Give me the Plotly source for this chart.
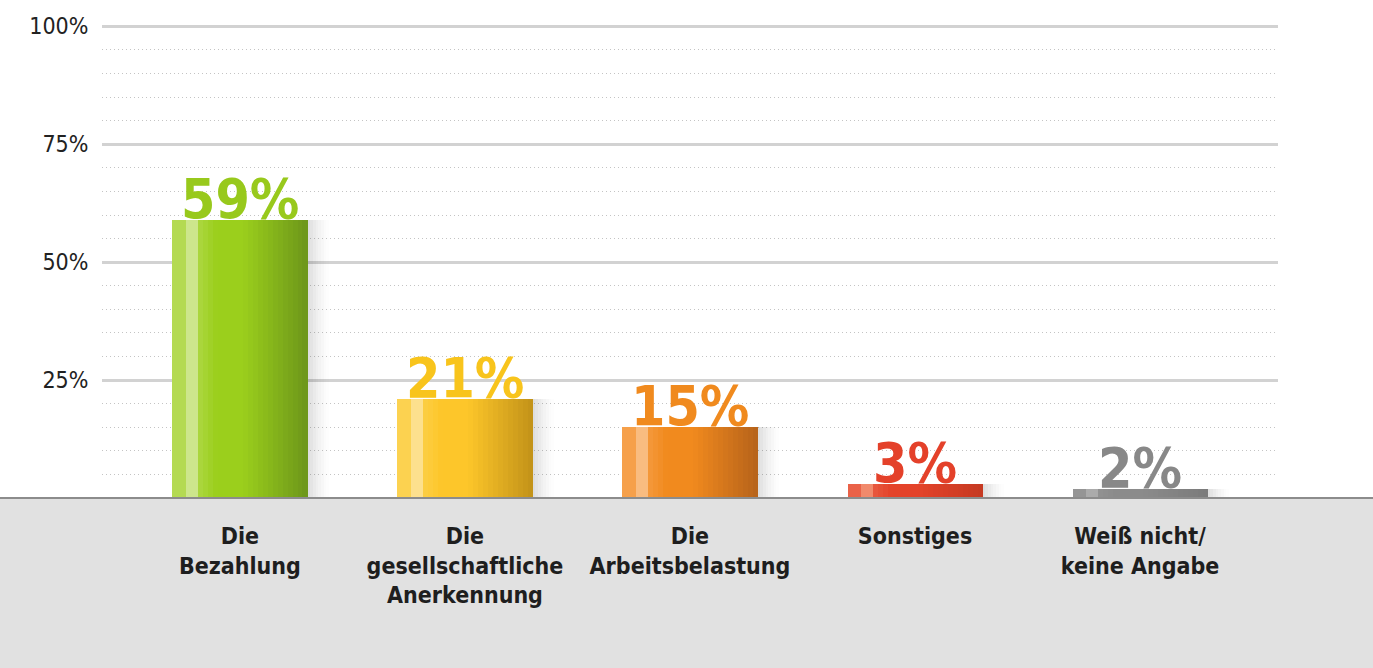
import plotly.graph_objects as go

categories = ["Die<br>Bezahlung", "Die<br>gesellschaftliche<br>Anerkennung", "Die<br>Arbeitsbelastung",
              "Sonstiges", "Weiß nicht/<br>keine Angabe"]
values = [59, 21, 15, 3, 2]
value_labels = ["59%", "21%", "15%", "3%", "2%"]
y_tick_vals = [25, 50, 75, 100]
y_tick_text = ["25%", "50%", "75%", "100%"]

# style palettes per category: left, stripe, mid, right(dark), label colour
pal_left = ["#b4da52", "#fcd250", "#f6a04a", "#ea6248", "#959595"]
pal_stripe = ["#cde68c", "#fde08e", "#f9bc80", "#f18a6c", "#ababab"]
pal_mid = ["#9bcf1c", "#fdc62a", "#f18a1e", "#e4432a", "#8b8b8b"]
pal_dark = ["#6e981a", "#c49419", "#b8641a", "#c63a22", "#7b7b7b"]
label_col = ["#98c91c", "#f8c41c", "#f08a1e", "#e4412a", "#888888"]

FONT = "DejaVu Sans Condensed, Liberation Sans Narrow, Roboto, sans-serif"

def hx(c):
    c = c.lstrip("#")
    return [int(c[i:i + 2], 16) for i in (0, 2, 4)]

def mix(a, b, t):
    A, B = hx(a), hx(b)
    return "rgb(%d,%d,%d)" % tuple(round(A[i] + (B[i] - A[i]) * t) for i in range(3))

W = 0.6
x = list(range(len(values)))
fig = go.Figure()

# soft shadow on right side
NS = 8
for k in range(NS):
    op = 0.13 * (1 - k / NS) ** 1.5
    fig.add_trace(go.Bar(x=x, y=values, width=0.012, offset=W / 2 + 0.012 * k,
                         marker=dict(color="rgba(0,0,0,%.3f)" % op, line_width=0),
                         hoverinfo="skip", showlegend=False))

# left light band
fig.add_trace(go.Bar(x=x, y=values, width=W * 0.1, offset=-W / 2,
                     marker=dict(color=pal_left, line_width=0), hoverinfo="skip", showlegend=False))
# stripe
fig.add_trace(go.Bar(x=x, y=values, width=W * 0.09, offset=-W / 2 + W * 0.1,
                     marker=dict(color=pal_stripe, line_width=0), hoverinfo="skip", showlegend=False))
# gradient body
N = 22
start = 0.19
for k in range(N):
    f0 = start + (1 - start) * k / N
    t = k / (N - 1)
    if t < 0.4:
        cols = [mix(pal_left[i], pal_mid[i], min(1, 0.4 + t / 0.25)) for i in range(5)]
    else:
        cols = [mix(pal_mid[i], pal_dark[i], (t - 0.4) / 0.6) for i in range(5)]
    fig.add_trace(go.Bar(x=x, y=values, width=W * (1 - start) / N + 0.002, offset=-W / 2 + W * f0,
                         marker=dict(color=cols, line_width=0), hoverinfo="skip", showlegend=False))

for i, v in enumerate(values):
    fig.add_annotation(x=i, y=v, text="<b>%s</b>" % value_labels[i], showarrow=False,
                       yanchor="bottom", xanchor="center", yshift=-13,
                       font=dict(family=FONT, size=55, color=label_col[i]))

# grey footer band
fig.add_shape(type="rect", xref="paper", yref="paper", x0=-0.2, x1=1.2, y0=-1, y1=0,
              fillcolor="#e1e1e1", line=dict(width=0), layer="below")
fig.add_shape(type="line", xref="paper", yref="paper", x0=-0.2, x1=1.2, y0=0, y1=0,
              line=dict(color="#8c8c8c", width=2))

fig.update_layout(
    width=1373, height=668,
    margin=dict(l=102, r=95, t=25, b=170, autoexpand=False),
    paper_bgcolor="white", plot_bgcolor="white",
    barmode="overlay", bargap=0,
    showlegend=False,
    font=dict(family=FONT, color="#1e1e1e"),
    xaxis=dict(range=[-0.613, 4.613], tickvals=x, ticktext=["<b>%s</b>" % c for c in categories],
               tickfont=dict(size=23, color="#1e1e1e", family=FONT), showgrid=False, zeroline=False,
               showline=False, ticks="outside", ticklen=17, tickcolor="rgba(0,0,0,0)", automargin=False),
    yaxis=dict(range=[0, 100.3], tickvals=y_tick_vals, ticktext=y_tick_text,
               tickfont=dict(size=23, color="#222222", family=FONT),
               showgrid=True, gridcolor="#d2d2d2", gridwidth=3, zeroline=False, showline=False,
               ticks="outside", ticklen=8, tickcolor="rgba(0,0,0,0)", automargin=False,
               minor=dict(dtick=5, showgrid=True, gridcolor="#c4c4c4", griddash="1px,3px", gridwidth=1)),
)

fig.write_html("out.html", config={"displayModeBar": False},
               post_script="document.body.style.margin='0';document.body.style.padding='0';")
